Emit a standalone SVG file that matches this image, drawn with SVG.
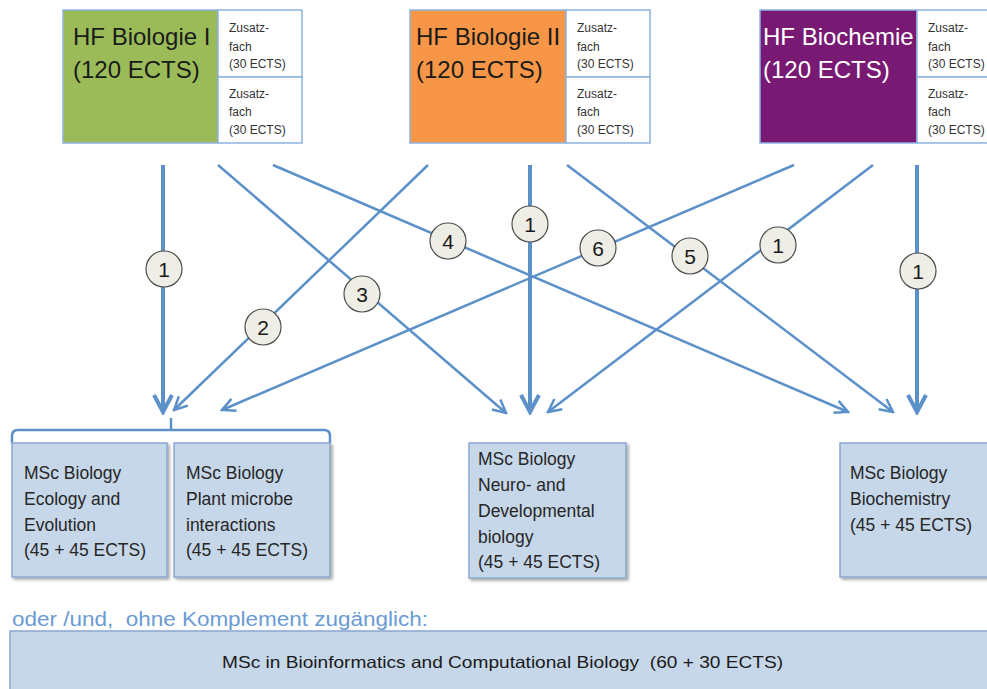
<svg xmlns="http://www.w3.org/2000/svg" width="987" height="689" viewBox="0 0 987 689">
<style>
text{font-family:"Liberation Sans",Arial,sans-serif;white-space:pre;}
.hf{font-size:24px;fill:#1a1a1a;}
.hfw{font-size:24px;fill:#ffffff;}
.zf{font-size:12px;fill:#333;}
.zbox{fill:#ffffff;stroke:#8db3e2;stroke-width:1.5;}
.msc{fill:#c6d7e9;stroke:#8aa8cf;stroke-width:1.5;filter:url(#sh);}
.mt{font-size:17.5px;fill:#262626;}
.thin{stroke:#5b90c9;stroke-width:2.5;fill:none;marker-end:url(#ah);}
.thick{stroke:#5b90c9;stroke-width:4;fill:none;marker-end:url(#ahk);}
.lbl circle{fill:#eeede6;stroke:#4d4d4d;stroke-width:1.2;}
.lbl text{font-size:21px;fill:#1a1a1a;text-anchor:middle;}
</style>
<defs>
<marker id="ah" viewBox="0 0 16 16" refX="14" refY="8" markerWidth="16" markerHeight="16" markerUnits="userSpaceOnUse" orient="auto">
<path d="M1,1.5 L14,8 L1,14.5" fill="none" stroke="#5b90c9" stroke-width="2.5"/>
</marker>
<marker id="ahk" viewBox="0 0 22 22" refX="19" refY="11" markerWidth="22" markerHeight="22" markerUnits="userSpaceOnUse" orient="auto">
<path d="M2,2 L19,11 L2,20" fill="none" stroke="#5b90c9" stroke-width="4"/>
</marker>
<filter id="sh" x="-10%" y="-10%" width="130%" height="130%">
<feDropShadow dx="2" dy="2" stdDeviation="1.8" flood-color="#000" flood-opacity="0.35"/>
</filter>
</defs>

<g id="hf-bio1">
<rect x="63" y="10" width="155" height="133" fill="#9bbb59" stroke="#8db3e2" stroke-width="1.5"/>
<rect class="zbox" x="218" y="10" width="84" height="67"/>
<rect class="zbox" x="218" y="77" width="84" height="66"/>
<text class="hf" x="73" y="45">HF Biologie I</text>
<text class="hf" x="73" y="78">(120 ECTS)</text>
<text class="zf" x="229" y="32">Zusatz-</text>
<text class="zf" x="229" y="51">fach</text>
<text class="zf" x="229" y="68">(30 ECTS)</text>
<text class="zf" x="229" y="98">Zusatz-</text>
<text class="zf" x="229" y="116">fach</text>
<text class="zf" x="229" y="134">(30 ECTS)</text>
</g>

<g id="hf-bio2">
<rect x="410" y="10" width="156" height="133" fill="#f79646" stroke="#8db3e2" stroke-width="1.5"/>
<rect class="zbox" x="566" y="10" width="84" height="67"/>
<rect class="zbox" x="566" y="77" width="84" height="66"/>
<text class="hf" x="416" y="45">HF Biologie II</text>
<text class="hf" x="416" y="78">(120 ECTS)</text>
<text class="zf" x="577" y="32">Zusatz-</text>
<text class="zf" x="577" y="51">fach</text>
<text class="zf" x="577" y="68">(30 ECTS)</text>
<text class="zf" x="577" y="98">Zusatz-</text>
<text class="zf" x="577" y="116">fach</text>
<text class="zf" x="577" y="134">(30 ECTS)</text>
</g>

<g id="hf-biochem">
<rect x="760" y="10" width="157" height="133" fill="#781a73" stroke="#8db3e2" stroke-width="1.5"/>
<rect class="zbox" x="917" y="10" width="84" height="67"/>
<rect class="zbox" x="917" y="77" width="84" height="66"/>
<text class="hfw" x="763" y="45">HF Biochemie</text>
<text class="hfw" x="763" y="78">(120 ECTS)</text>
<text class="zf" x="928" y="32">Zusatz-</text>
<text class="zf" x="928" y="51">fach</text>
<text class="zf" x="928" y="68">(30 ECTS)</text>
<text class="zf" x="928" y="98">Zusatz-</text>
<text class="zf" x="928" y="116">fach</text>
<text class="zf" x="928" y="134">(30 ECTS)</text>
</g>

<g id="connectors">
<line class="thick" x1="163" y1="165" x2="163" y2="412"/>
<line class="thick" x1="530" y1="165" x2="530" y2="412"/>
<line class="thick" x1="917" y1="165" x2="917" y2="412"/>
<line class="thin" x1="428" y1="165" x2="174" y2="410"/>
<line class="thin" x1="218" y1="165" x2="506" y2="413"/>
<line class="thin" x1="273" y1="165" x2="848" y2="412"/>
<line class="thin" x1="567" y1="165" x2="893" y2="412"/>
<line class="thin" x1="794" y1="165" x2="222" y2="410"/>
<line class="thin" x1="873" y1="165" x2="548" y2="412"/>
<path d="M12,443 L12,436 Q12,430 18,430 L324,430 Q330,430 330,436 L330,443 M171,430 L171,418" fill="none" stroke="#5b90c9" stroke-width="2.5"/>
</g>

<g id="labels">
<g class="lbl"><circle cx="164" cy="269" r="18"/><text x="164" y="277">1</text></g>
<g class="lbl"><circle cx="263" cy="327" r="18"/><text x="263" y="335">2</text></g>
<g class="lbl"><circle cx="362" cy="294" r="18"/><text x="362" y="302">3</text></g>
<g class="lbl"><circle cx="448" cy="241" r="18"/><text x="448" y="249">4</text></g>
<g class="lbl"><circle cx="530" cy="224" r="18"/><text x="530" y="232">1</text></g>
<g class="lbl"><circle cx="598" cy="248" r="18"/><text x="598" y="256">6</text></g>
<g class="lbl"><circle cx="690" cy="256" r="18"/><text x="690" y="264">5</text></g>
<g class="lbl"><circle cx="778" cy="245" r="18"/><text x="778" y="253">1</text></g>
<g class="lbl"><circle cx="918" cy="271" r="18"/><text x="918" y="279">1</text></g>
</g>

<g id="msc-eco">
<rect class="msc" x="12" y="443" width="155" height="134"/>
<text class="mt" x="24" y="479">MSc Biology</text>
<text class="mt" x="24" y="505">Ecology and</text>
<text class="mt" x="24" y="531">Evolution</text>
<text class="mt" x="24" y="556">(45 + 45 ECTS)</text>
</g>

<g id="msc-plant">
<rect class="msc" x="174" y="443" width="156" height="134"/>
<text class="mt" x="186" y="479">MSc Biology</text>
<text class="mt" x="186" y="505">Plant microbe</text>
<text class="mt" x="186" y="531">interactions</text>
<text class="mt" x="186" y="556">(45 + 45 ECTS)</text>
</g>

<g id="msc-neuro">
<rect class="msc" x="469" y="443" width="157" height="135"/>
<text class="mt" x="478" y="465">MSc Biology</text>
<text class="mt" x="478" y="491">Neuro- and</text>
<text class="mt" x="478" y="517">Developmental</text>
<text class="mt" x="478" y="543">biology</text>
<text class="mt" x="478" y="568">(45 + 45 ECTS)</text>
</g>

<g id="msc-biochem">
<rect class="msc" x="840" y="443" width="160" height="134"/>
<text class="mt" x="850" y="479">MSc Biology</text>
<text class="mt" x="850" y="505">Biochemistry</text>
<text class="mt" x="850" y="531">(45 + 45 ECTS)</text>
</g>

<text x="12" y="626" font-size="20" fill="#6a9bd4" textLength="416" lengthAdjust="spacingAndGlyphs">oder /und,  ohne Komplement zugänglich:</text>

<g id="msc-bioinf">
<rect class="msc" x="10" y="631" width="995" height="70"/>
<text x="222" y="668" font-size="16.5" fill="#1a1a1a" textLength="561" lengthAdjust="spacingAndGlyphs">MSc in Bioinformatics and Computational Biology  (60 + 30 ECTS)</text>
</g>
</svg>
